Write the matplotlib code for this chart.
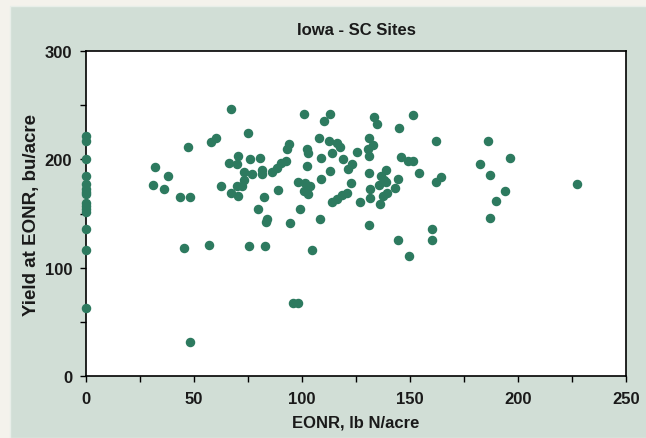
import matplotlib
matplotlib.use("Agg")
import matplotlib.pyplot as plt
from matplotlib.patches import Rectangle
from matplotlib.ticker import MultipleLocator

plt.rcParams['font.family'] = ['Liberation Sans', 'DejaVu Sans']
plt.rcParams['font.weight'] = 'bold'

# sites with EONR = 0
zero_yield = [222, 217, 200, 185, 177, 173, 170, 168, 160, 157, 154, 151, 136, 116, 63]

# sites with EONR > 0 (lb N/acre, bu/acre)
eonr = [47, 32, 38, 31, 36, 43.5, 48, 45.5, 48, 96, 98, 104.5, 149.5,
        67, 75, 60, 58, 70.5, 76, 80.5, 66, 70, 73, 77, 81.5, 81.5, 86, 88.5,
        90.5, 92.5, 94, 93, 62.5, 70, 72, 73, 67, 70.5, 82.5, 89, 79.5, 84,
        83.5, 94.5, 57, 75.5, 83,
        101, 113, 110, 133.5, 134.5, 108, 112.5, 116, 117.5, 131, 133, 130.5,
        131, 102.5, 103, 114, 125.5, 109, 119, 123, 121.5, 102.5, 113, 131,
        139, 136.5, 138, 109, 98, 101.5, 103.5, 101, 103, 122.5, 135.5, 139,
        131.5, 121, 118.5, 116, 114, 127, 131.5, 139.5, 136, 99, 108.5, 131,
        151.5, 145, 162, 186, 146, 149, 151.5, 154, 162, 164.5, 182.5, 144.5,
        143, 137.5, 187, 160, 160, 144.5, 196.5, 187, 194, 190, 227.5]
yld = [211, 193, 185, 176, 173, 165.5, 165.5, 118, 31, 67, 67, 116, 111,
       246.5, 224, 220, 216, 203.5, 200, 201, 196.5, 195.5, 188.5, 186.5, 190,
       186.5, 188, 192, 196.5, 198.5, 214, 209.5, 175, 175, 175.5, 180.5, 169,
       166.5, 165, 172, 154, 145, 142.5, 141.5, 121, 120, 120,
       242, 242, 235.5, 239.5, 232.5, 219.5, 217, 215.5, 211.5, 220, 213.5,
       209.5, 203, 209.5, 205.5, 205.5, 207, 201, 200, 195.5, 191, 194, 189,
       187.5, 190, 185, 181, 182, 179, 178, 175.5, 171, 168, 178, 176.5, 179,
       172.5, 169, 167.5, 163.5, 160.5, 161, 164, 168.5, 159, 154, 144.5,
       139.5,
       241, 229, 216.5, 216.5, 202, 198.5, 198.5, 187.5, 179, 183.5, 195.5,
       182, 174, 166.5, 146, 135.5, 125.5, 126, 201, 185.5, 171, 162, 177.5]

fig = plt.figure(figsize=(6.46, 4.39), dpi=100)
fig.patch.set_facecolor('#f4f2ec')
bg = Rectangle((10 / 646, 0), 1, 1 - 7 / 439, transform=fig.transFigure,
               facecolor='#d1ded6', edgecolor='#e8eee9', lw=1, zorder=-10)
fig.add_artist(bg)

ax = fig.add_axes([86 / 646, 1 - 377 / 439, 540 / 646, 325 / 439])
ax.set_zorder(1)
ax.set_facecolor('white')

col = '#2d7a5f'
ax.scatter([0] * len(zero_yield), zero_yield, s=34, color=col, zorder=3, clip_on=False)
ax.scatter(eonr, yld, s=34, color=col, zorder=3, clip_on=False)

ax.set_xlim(0, 250)
ax.set_ylim(0, 300)
ax.xaxis.set_major_locator(MultipleLocator(50))
ax.xaxis.set_minor_locator(MultipleLocator(25))
ax.yaxis.set_major_locator(MultipleLocator(100))
ax.yaxis.set_minor_locator(MultipleLocator(50))
ax.tick_params(which='both', direction='out', length=4, width=1, color='black',
               labelsize=12, labelcolor='#1a1a1a')
ax.tick_params(axis='x', pad=7)
ax.tick_params(axis='y', pad=6)
for lab in ax.get_xticklabels() + ax.get_yticklabels():
    lab.set_fontweight('bold')
for sp in ax.spines.values():
    sp.set_color('black')
    sp.set_linewidth(1.2)

ax.set_title('Iowa - SC Sites', fontsize=12, fontweight='bold', color='#1a1a1a', pad=12)
ax.set_xlabel('EONR, lb N/acre', fontsize=12, fontweight='bold', color='#1a1a1a', labelpad=6)
ax.set_ylabel('Yield at EONR, bu/acre', fontsize=13.5, fontweight='bold', color='#1a1a1a', labelpad=3)

fig.savefig('out.png', dpi=100, facecolor=fig.get_facecolor())
